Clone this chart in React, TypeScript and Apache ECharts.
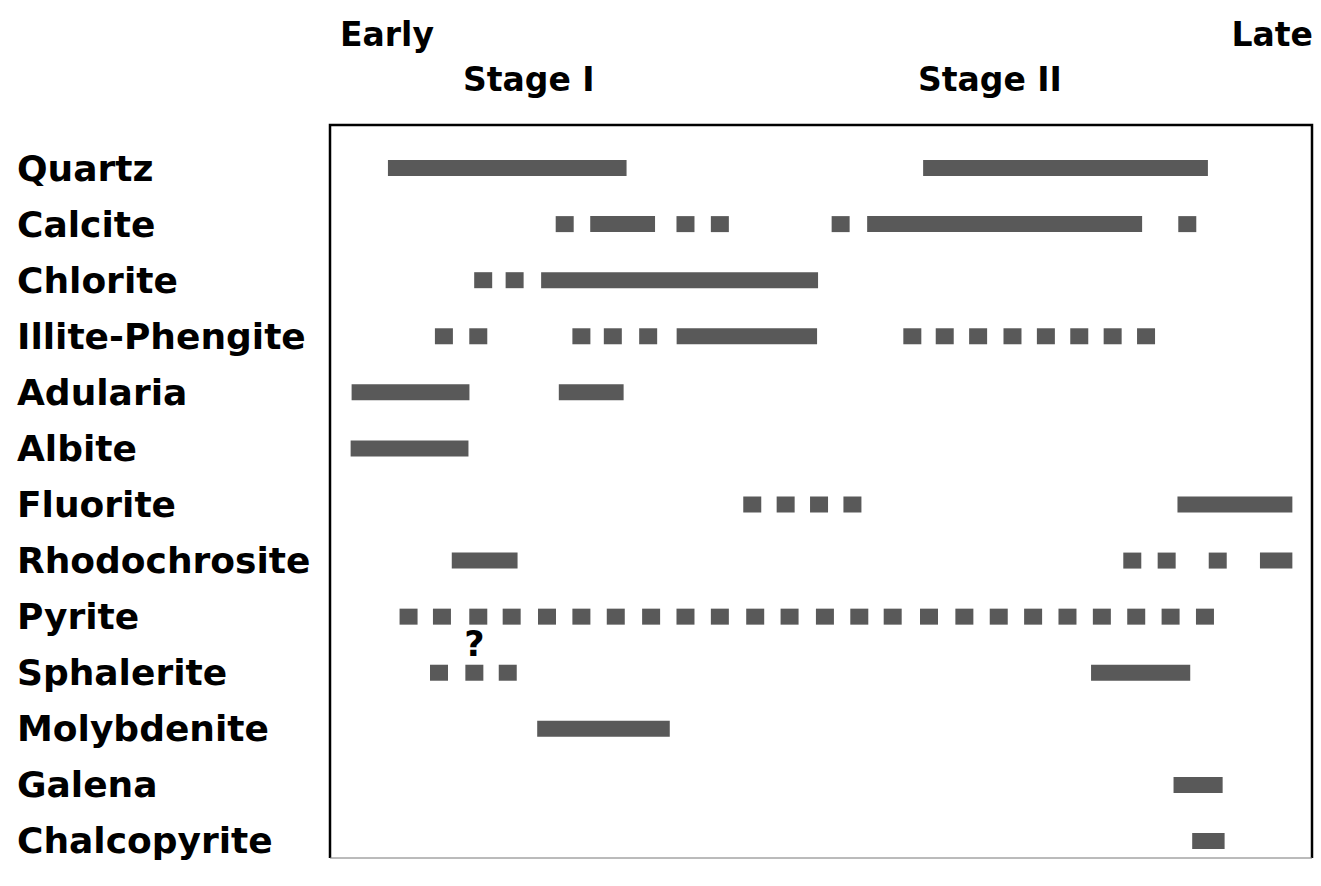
import { useEffect, useRef } from "react";
import * as echarts from "echarts";

// Relative paragenetic time: 0 = earliest, 100 = latest
const minerals = [
  "Quartz",
  "Calcite",
  "Chlorite",
  "Illite-Phengite",
  "Adularia",
  "Albite",
  "Fluorite",
  "Rhodochrosite",
  "Pyrite",
  "Sphalerite",
  "Molybdenite",
  "Galena",
  "Chalcopyrite",
];

// Continuous ranges [start, end]
const quartzRanges = [[5.9, 30.2], [60.4, 89.4]];
const calciteRanges = [[26.5, 33.1], [54.7, 82.7]];
const chloriteRanges = [[21.5, 49.7]];
const illiteRanges = [[35.3, 49.6]];
const adulariaRanges = [[2.2, 14.2], [23.3, 29.9]];
const albiteRanges = [[2.1, 14.1]];
const fluoriteRanges = [[86.3, 98.0]];
const rhodochrositeRanges = [[12.4, 19.1], [94.7, 98.0]];
const pyriteRanges: number[][] = [];
const sphaleriteRanges = [[77.5, 87.6]];
const molybdeniteRanges = [[21.1, 34.6]];
const galenaRanges = [[85.9, 90.9]];
const chalcopyriteRanges = [[87.8, 91.1]];

// Dashed (intermittent) occurrences: centre of each dash
const quartzDots: number[] = [];
const calciteDots = [23.9, 36.2, 39.7, 52.0, 87.3];
const chloriteDots = [15.6, 18.8];
const illiteDots = [11.6, 15.1, 25.6, 28.8, 32.4, 59.3, 62.6, 66.0, 69.5, 72.9, 76.3, 79.7, 83.1];
const adulariaDots: number[] = [];
const albiteDots: number[] = [];
const fluoriteDots = [43.0, 46.4, 49.8, 53.2];
const rhodochrositeDots = [81.7, 85.2, 90.4];
const pyriteDots = [
  8.0, 11.4, 15.1, 18.5, 22.1, 25.6, 29.1, 32.7, 36.2, 39.7, 43.3, 46.8,
  50.4, 53.9, 57.3, 61.0, 64.6, 68.1, 71.6, 75.1, 78.6, 82.1, 85.6, 89.1,
];
const sphaleriteDots = [11.1, 14.7, 18.1];
const molybdeniteDots: number[] = [];
const galenaDots: number[] = [];
const chalcopyriteDots: number[] = [];

// Uncertain occurrence marker
const sphaleriteQuery = [14.7];

const rangesByMineral = [
  quartzRanges, calciteRanges, chloriteRanges, illiteRanges, adulariaRanges,
  albiteRanges, fluoriteRanges, rhodochrositeRanges, pyriteRanges,
  sphaleriteRanges, molybdeniteRanges, galenaRanges, chalcopyriteRanges,
];
const dotsByMineral = [
  quartzDots, calciteDots, chloriteDots, illiteDots, adulariaDots,
  albiteDots, fluoriteDots, rhodochrositeDots, pyriteDots,
  sphaleriteDots, molybdeniteDots, galenaDots, chalcopyriteDots,
];

const stageLabels = ["Early", "Stage I", "Stage II", "Late"];

const FONT = "DejaVu Sans";
const BAR_COLOR = "#595959";

export default function App() {
  const ref = useRef<HTMLDivElement>(null);

  useEffect(() => {
    if (!ref.current) return;
    const chart = echarts.init(ref.current, undefined, { renderer: "svg" });

    const rangeData: any[] = [];
    rangesByMineral.forEach((rs, i) => {
      rs.forEach((r) => rangeData.push([r[0], r[1], minerals[i]]));
    });
    const dotData: any[] = [];
    dotsByMineral.forEach((ds, i) => {
      ds.forEach((d) => dotData.push([d, minerals[i]]));
    });
    const queryData = sphaleriteQuery.map((d) => [d, "Sphalerite"]);

    const headerStyle = {
      fontFamily: FONT,
      fontWeight: "bold" as const,
      fontSize: 33,
      fill: "#000",
      verticalAlign: "middle" as const,
    };

    chart.setOption({
      animation: false,
      backgroundColor: "#fff",
      grid: { left: 330, right: 9, top: 140, height: 729, containLabel: false },
      xAxis: {
        type: "value",
        min: 0,
        max: 100,
        show: false,
      },
      yAxis: {
        type: "category",
        data: minerals,
        inverse: true,
        axisLine: { show: false },
        axisTick: { show: false },
        splitLine: { show: false },
        axisLabel: {
          align: "left",
          margin: 313,
          fontFamily: FONT,
          fontWeight: "bold",
          fontSize: 36,
          color: "#000",
        },
      },
      graphic: [
        {
          type: "polyline",
          shape: { points: [[330, 858], [330, 125], [1312, 125], [1312, 858]] },
          style: { stroke: "#000", lineWidth: 2.5, fill: "none" },
          silent: true,
        },
        {
          type: "line",
          shape: { x1: 330, y1: 858, x2: 1312, y2: 858 },
          style: { stroke: "#777", lineWidth: 1 },
          silent: true,
        },
        { type: "text", x: 340, y: 34, style: { ...headerStyle, text: stageLabels[0], align: "left" } },
        { type: "text", x: 463, y: 79, style: { ...headerStyle, text: stageLabels[1], align: "left" } },
        { type: "text", x: 918, y: 79, style: { ...headerStyle, text: stageLabels[2], align: "left" } },
        { type: "text", x: 1313, y: 34, style: { ...headerStyle, text: stageLabels[3], align: "right" } },
      ],
      series: [
        {
          type: "custom",
          name: "continuous",
          data: rangeData,
          encode: { x: [0, 1], y: 2 },
          renderItem: (params: any, api: any) => {
            const a = api.coord([api.value(0), api.value(2)]);
            const b = api.coord([api.value(1), api.value(2)]);
            const h = 16;
            return {
              type: "rect",
              shape: { x: a[0], y: a[1] - h / 2, width: b[0] - a[0], height: h },
              style: { fill: BAR_COLOR },
            };
          },
        },
        {
          type: "scatter",
          name: "intermittent",
          data: dotData,
          symbol: "rect",
          symbolSize: [18, 16],
          itemStyle: { color: BAR_COLOR, opacity: 1 },
        },
        {
          type: "scatter",
          name: "uncertain",
          data: queryData,
          symbolSize: 0,
          itemStyle: { opacity: 1 },
          label: {
            show: true,
            position: "inside",
            offset: [0, -29],
            formatter: "?",
            fontFamily: FONT,
            fontWeight: "bold",
            fontSize: 35,
            color: "#000",
            opacity: 1,
          },
        },
      ],
    });

    return () => chart.dispose();
  }, []);

  return (
    <div
      ref={ref}
      style={{ position: "fixed", left: 0, top: 0, width: 1321, height: 886, background: "#fff" }}
    />
  );
}
